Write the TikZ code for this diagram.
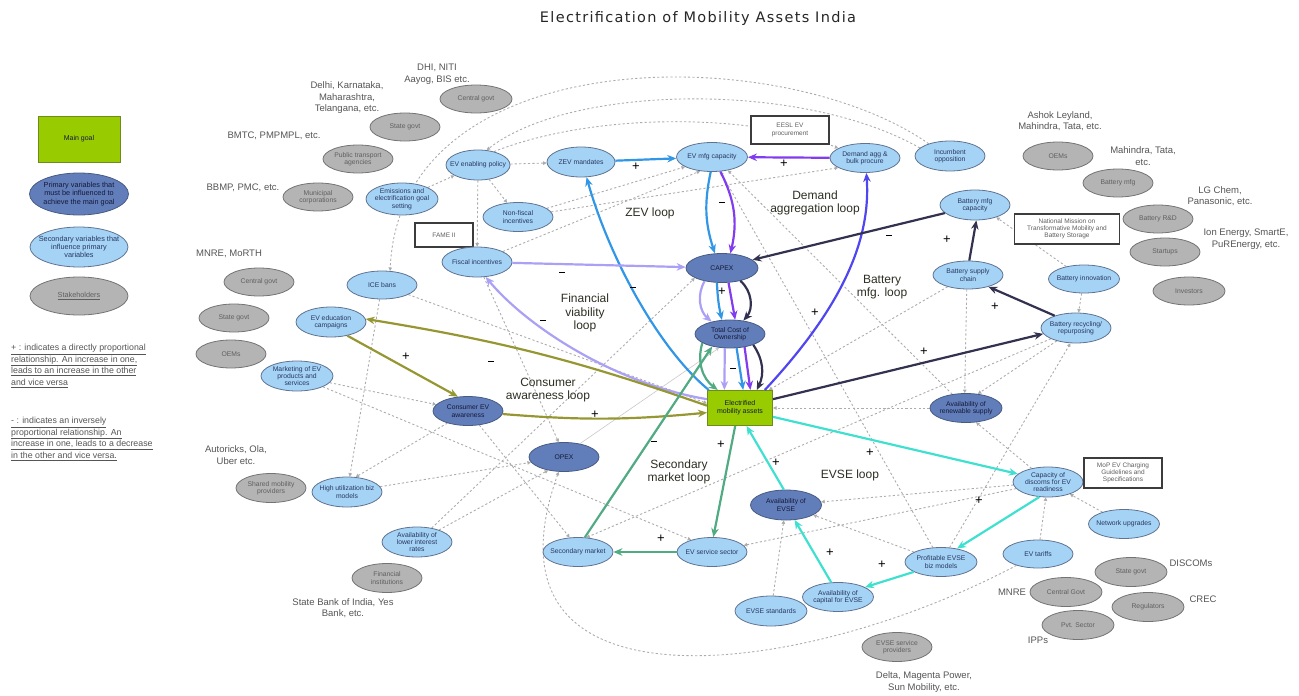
\documentclass[tikz,border=0pt]{standalone}
\usepackage{fontspec}
\setmainfont{Liberation Sans}
\newfontfamily\titlefont[LetterSpace=9]{DejaVu Sans}
\usetikzlibrary{shapes.geometric,arrows.meta,backgrounds}
\definecolor{goalc}{RGB}{153,204,0}
\definecolor{goalb}{RGB}{110,140,30}
\definecolor{primf}{RGB}{98,126,186}
\definecolor{primb}{RGB}{70,90,130}
\definecolor{secf}{RGB}{165,211,246}
\definecolor{secb}{RGB}{95,115,145}
\definecolor{stkf}{RGB}{180,180,180}
\definecolor{stkb}{RGB}{115,115,115}
\definecolor{secT}{RGB}{40,55,95}
\definecolor{primT}{RGB}{20,25,55}
\definecolor{stkT}{RGB}{95,95,95}
\definecolor{stkL}{RGB}{85,85,85}
\definecolor{annob}{RGB}{60,60,60}
\definecolor{loopT}{RGB}{45,45,35}
\definecolor{dashc}{RGB}{172,172,172}
\definecolor{zevc}{RGB}{50,150,230}
\definecolor{purc}{RGB}{130,60,240}
\definecolor{bvc}{RGB}{80,70,240}
\definecolor{navc}{RGB}{50,50,80}
\definecolor{lavc}{RGB}{170,160,245}
\definecolor{olvc}{RGB}{150,150,50}
\definecolor{grnc}{RGB}{80,170,130}
\definecolor{trqc}{RGB}{64,224,208}
\definecolor{thing}{RGB}{200,200,200}
\newcommand{\mns}{\rule[3.2pt]{5.5pt}{1.6pt}}
\tikzset{
 sec/.style={ellipse, draw=secb, fill=secf, line width=0.8pt, inner sep=-12pt,
   minimum width=70pt, minimum height=29pt, font=\fontsize{6.8}{7.4}\selectfont,
   text=secT, align=center},
 prim/.style={sec, fill=primf, draw=primb, text=primT},
 stk/.style={sec, fill=stkf, draw=stkb, text=stkT},
 goal/.style={rectangle, draw=goalb, fill=goalc, line width=1pt, minimum width=65pt,
   minimum height=35pt, inner sep=1pt, align=center, font=\fontsize{7}{8}\selectfont, text=primT},
 anno/.style={rectangle, draw=annob, line width=1.2pt, fill=white, inner sep=1pt,
   align=center, font=\fontsize{6.5}{7.3}\selectfont, text=stkT},
 slabel/.style={font=\fontsize{9.5}{11.5}\selectfont, text=stkL, align=center, inner sep=0pt},
 looplbl/.style={font=\fontsize{12}{13.5}\selectfont, text=loopT, align=center, inner sep=0pt},
 sgn/.style={font=\fontsize{13}{13}\selectfont, text=black, inner sep=0pt},
 dsh/.style={draw=dashc, line width=0.9pt, dash pattern=on 2.2pt off 2.2pt,
   -{Triangle[length=3.5pt,width=3.5pt]}},
 carr/.style={line width=2.2pt, -{Stealth[length=9pt,width=7.5pt]}},
}
\begin{document}
\begin{tikzpicture}[x=1pt,y=-1pt]
\useasboundingbox (0,0) rectangle (1299,696);
% title
\node[font=\titlefont\fontsize{14.5}{16}\selectfont, text=black!85] (title) at (698,18) {Electrification of Mobility Assets India};
% legend
\node[goal, minimum width=82pt, minimum height=46pt, font=\fontsize{7}{8}\selectfont] (lgoal) at (79,139) {Main goal};
\node[prim, minimum width=99pt, minimum height=42pt, font=\fontsize{7.3}{8.3}\selectfont] (lprim) at (79,194) {Primary variables that\\must be influenced to\\achieve the main goal};
\node[sec, minimum width=98pt, minimum height=40pt, font=\fontsize{7.3}{8.3}\selectfont] (lsec) at (79,247) {Secondary variables that\\influence primary\\variables};
\node[stk, minimum width=98pt, minimum height=38pt, font=\fontsize{7.3}{8.3}\selectfont] (lstk) at (79,296) {\underline{Stakeholders}};
\node[anchor=north west, align=left, font=\fontsize{8.8}{11.6}\selectfont, text=stkL, inner sep=0pt] (leg1) at (11,344)
 {\underline{+ : indicates a directly proportional}\\\underline{relationship. An increase in one,}\\\underline{leads to an increase in the other}\\\underline{and vice versa}};
\node[anchor=north west, align=left, font=\fontsize{8.8}{11.6}\selectfont, text=stkL, inner sep=0pt] (leg2) at (11,417)
 {\underline{- : indicates an inversely}\\\underline{proportional relationship. An}\\\underline{increase in one, leads to a decrease}\\\underline{in the other and vice versa.}};
% stakeholders
\node[stk, minimum width=72pt, minimum height=28pt] (sCG1) at (476,99) {Central govt};
\node[stk, minimum height=28pt] (sSG1) at (405,127) {State govt};
\node[stk, minimum height=28pt] (sPTA) at (358,159) {Public transport\\agencies};
\node[stk, minimum height=28pt] (sMC) at (318,197) {Municipal\\corporations};
\node[stk, minimum height=28pt] (sCG2) at (259,282) {Central govt};
\node[stk, minimum height=28pt] (sSG2) at (234,318) {State govt};
\node[stk, minimum height=28pt] (sOEM1) at (231,354) {OEMs};
\node[stk, minimum height=29pt] (sSMP) at (271,488) {Shared mobility\\providers};
\node[stk, minimum height=29pt] (sFI) at (387,578) {Financial\\institutions};
\node[stk, minimum height=29pt] (sEVSP) at (897,647) {EVSE service\\providers};
\node[stk, minimum height=28pt] (sOEM2) at (1058,156) {OEMs};
\node[stk, minimum height=28pt] (sBM) at (1118,183) {Battery mfg};
\node[stk, minimum height=28pt] (sBRD) at (1158,219) {Battery R\&D};
\node[stk, minimum height=28pt] (sST) at (1165,252) {Startups};
\node[stk, minimum width=72pt, minimum height=28pt] (sINV) at (1189,291) {Investors};
\node[stk, minimum width=72pt, minimum height=29pt] (sSG3) at (1131,572) {State govt};
\node[stk, minimum width=72pt, minimum height=29pt] (sCG3) at (1066,592) {Central Govt};
\node[stk, minimum width=72pt, minimum height=29pt] (sREG) at (1148,607) {Regulators};
\node[stk, minimum width=72pt, minimum height=29pt] (sPVT) at (1078,625) {Pvt. Sector};
% stakeholder labels
\node[slabel] (tCG1) at (437,74) {DHI, NITI\\Aayog, BIS etc.};
\node[slabel] (tSG1) at (347,98) {Delhi, Karnataka,\\Maharashtra,\\Telangana, etc.};
\node[slabel] (tPTA) at (274,136) {BMTC, PMPMPL, etc.};
\node[slabel] (tMC) at (243,188) {BBMP, PMC, etc.};
\node[slabel] (tCG2) at (229,254) {MNRE, MoRTH};
\node[slabel] (tSMP) at (236,455) {Autoricks, Ola,\\Uber etc.};
\node[slabel] (tFI) at (343,608) {State Bank of India, Yes\\Bank, etc.};
\node[slabel] (tEVSP) at (924,682) {Delta, Magenta Power,\\Sun Mobility, etc.};
\node[slabel] (tOEM2) at (1060,121) {Ashok Leyland,\\Mahindra, Tata, etc.};
\node[slabel] (tBM) at (1143,156) {Mahindra, Tata,\\etc.};
\node[slabel] (tBRD) at (1220,196) {LG Chem,\\Panasonic, etc.};
\node[slabel] (tST) at (1246,239) {Ion Energy, SmartE,\\PuREnergy, etc.};
\node[slabel] (tSG3) at (1191,563) {DISCOMs};
\node[slabel] (tCG3) at (1012,592) {MNRE};
\node[slabel] (tREG) at (1203,599) {CREC};
\node[slabel] (tPVT) at (1038,640) {IPPs};
% secondary variables
\node[sec, minimum width=64pt, minimum height=30pt] (pol) at (478,165) {EV enabling policy};
\node[sec, minimum width=68pt, minimum height=30pt] (zev) at (581,162) {ZEV mandates};
\node[sec, minimum width=72pt, minimum height=32pt] (emi) at (402,199) {Emissions and\\electrification goal\\setting};
\node[sec] (nfi) at (518,217) {Non-fiscal\\incentives};
\node[anno, minimum width=58pt, minimum height=24pt] (fame) at (444,235) {FAME II};
\node[sec, minimum height=30pt] (fisc) at (477,262) {Fiscal incentives};
\node[sec, minimum height=28pt] (ice) at (382,285) {ICE bans};
\node[sec, minimum height=30pt] (edu) at (331,322) {EV education\\campaigns};
\node[sec, minimum width=72pt, minimum height=30pt] (mkt) at (297,376) {Marketing of EV\\products and\\services};
\node[sec, minimum height=30pt] (hub) at (347,492) {High utilization biz\\models};
\node[sec, minimum height=30pt] (lir) at (417,542) {Availability of\\lower interest\\rates};
\node[sec] (secm) at (578,552) {Secondary market};
\node[sec] (evss) at (712,552) {EV service sector};
\node[sec, minimum width=72pt, minimum height=30pt] (evses) at (771,611) {EVSE standards};
\node[sec, minimum width=71pt] (acap) at (838,597) {Availability of\\capital for EVSE};
\node[sec, minimum width=72pt] (pevse) at (941,562) {Profitable EVSE\\biz models};
\node[sec, minimum height=28pt] (tar) at (1038,554) {EV tariffs};
\node[sec, minimum width=71pt] (net) at (1124,524) {Network upgrades};
\node[sec, minimum height=30pt] (disc) at (1048,482) {Capacity of\\discoms for EV\\readiness};
\node[anno, minimum width=78pt, minimum height=30pt] (mop) at (1123,473) {MoP EV Charging\\Guidelines and\\Specifications};
\node[sec, minimum height=30pt] (brec) at (1076,328) {Battery recycling/\\repurposing};
\node[sec, minimum width=71pt, minimum height=28pt] (binn) at (1084,279) {Battery innovation};
\node[anno, minimum width=105pt, minimum height=30pt] (nmm) at (1067,229) {National Mission on\\Transformative Mobility and\\Battery Storage};
\node[sec, minimum height=30pt] (bmc) at (975,205) {Battery mfg\\capacity};
\node[sec, minimum height=28pt] (bsc) at (968,275) {Battery supply\\chain};
\node[sec, minimum height=30pt] (inc) at (950,156) {Incumbent\\opposition};
\node[sec] (dagg) at (865,158) {Demand agg \&\\bulk procure};
\node[anno, minimum width=78pt, minimum height=28pt] (eesl) at (790,130) {EESL EV\\procurement};
\node[sec, minimum width=71pt] (evmfg) at (712,157) {EV mfg capacity};
% primary variables
\node[prim, minimum width=72pt] (capex) at (722,268) {CAPEX};
\node[prim, minimum height=28pt] (tco) at (730,334) {Total Cost of\\Ownership};
\node[prim] (cea) at (468,411) {Consumer EV\\awareness};
\node[prim] (opex) at (564,457) {OPEX};
\node[prim, minimum width=72pt] (ren) at (966,408) {Availability of\\renewable supply};
\node[prim, minimum width=71pt, minimum height=30pt] (aevse) at (786,505) {Availability of\\EVSE};
% main goal
\node[goal] (ema) at (740,408) {Electrified\\mobility assets};
% dashed influences
\begin{pgfonlayer}{background}
\draw[dsh] (inc.150) .. controls (780,40) and (400,40) .. (ice.60);
\draw[dsh] (inc.165) .. controls (800,80) and (570,85) .. (pol.60);
\draw[dsh] (pol.40) .. controls (600,110) and (760,115) .. (dagg.160);
\draw[dsh] (pol) -- (zev);
\draw[dsh] (emi) -- (pol);
\draw[dsh] (pol) -- (nfi);
\draw[dsh] (pol) -- (fisc);
\draw[dsh] (nfi) -- (evmfg.200);
\draw[dsh] (fisc) -- (evmfg.230);
\draw[dsh] (nfi) -- (dagg.200);
\draw[dsh] (ice) -- (ema.172);
\draw[dsh] (fisc) -- (opex.110);
\draw[dsh] (mkt) -- (cea);
\draw[dsh] (hub) -- (opex);
\draw[dsh] (lir) -- (opex.220);
\draw[dsh] (lir) -- (capex.200);
\draw[dsh] (ice) -- (hub.80);
\draw[dsh] (cea) -- (hub.60);
\draw[dsh] (mkt) -- (evss.150);
\draw[dsh] (cea) -- (secm.120);
\draw[dsh] (tar) .. controls (800,680) and (470,720) .. (opex.250);
\draw[dsh] (brec) -- (secm.60);
\draw[dsh] (disc) -- (evss);
\draw[dsh] (evses) -- (aevse);
\draw[dsh] (disc) -- (aevse);
\draw[dsh] (pevse) -- (aevse);
\draw[dsh] (bsc.265) -- (ren.95);
\draw[dsh] (brec) -- (ren.50);
\draw[dsh] (ren) -- (ema);
\draw[dsh] (disc) -- (ren.305);
\draw[dsh] (pevse) -- (brec.250);
\draw[dsh] (tar) -- (disc);
\draw[dsh] (net) -- (disc);
\draw[dsh] (binn) -- (brec);
\draw[dsh] (binn) -- (bmc.330);
\draw[dsh] (bsc) -- (ema.32);
\draw[dsh] (pevse) -- (evmfg.300);
\draw[dsh] (ren) -- (evmfg.320);
\draw[line width=0.6pt, draw=thing, -{Stealth[length=4pt,width=3.5pt]}] (opex.40) -- (tco.232);
\end{pgfonlayer}
% ZEV loop
\draw[carr, zevc] (zev) -- (evmfg);
\draw[carr, zevc] (evmfg.265) to[bend right=15] (capex.116);
\draw[carr, zevc] (capex.251) to[bend right=5] (tco.120);
\draw[carr, zevc] (tco.295) -- (ema.80);
\draw[carr, zevc] (ema.150) .. controls (660,350) and (610,260) .. (zev.290);
% demand aggregation loop
\draw[carr, purc] (dagg) -- (evmfg);
\draw[carr, purc] (evmfg.300) to[bend left=20] (capex.60);
\draw[carr, purc] (capex.294) -- (tco.70);
\draw[carr, purc] (tco.318) -- (ema.60);
\draw[carr, bvc] (ema.36) .. controls (830,320) and (872,250) .. (dagg.275);
% battery mfg loop
\draw[carr, navc] (bmc.195) -- (capex.15);
\draw[carr, navc] (capex.325) to[bend left=45] (tco.45);
\draw[carr, navc] (tco.335) to[bend left=30] (ema.47);
\draw[carr, navc] (ema.15) -- (brec.190);
\draw[carr, navc] (brec.150) -- (bsc.330);
\draw[carr, navc] (bsc.85) -- (bmc.275);
% financial viability loop
\draw[carr, lavc] (fisc) -- (capex);
\draw[carr, lavc] (capex.217) to[bend right=40] (tco.146);
\draw[carr, lavc] (tco.250) -- (ema.131);
\draw[carr, lavc] (ema.165) .. controls (620,385) and (530,330) .. (fisc.300);
% consumer awareness loop
\draw[carr, olvc] (ema.176) to[bend right=5] (edu.5);
\draw[carr, olvc] (edu.320) -- (cea.125);
\draw[carr, olvc] (cea.355) to[bend right=5] (ema.188);
% secondary market loop
\draw[carr, grnc] (ema.255) -- (evss.85);
\draw[carr, grnc] (evss) -- (secm);
\draw[carr, grnc] (secm.65) -- (tco.215);
\draw[carr, grnc] (tco.198) to[bend right=35] (ema.141);
% EVSE loop
\draw[carr, trqc] (ema.345) -- (disc.165);
\draw[carr, trqc] (disc.240) -- (pevse.40);
\draw[carr, trqc] (pevse.200) -- (acap.20);
\draw[carr, trqc] (acap.115) -- (aevse.300);
\draw[carr, trqc] (aevse.98) -- (ema.290);
% loop labels
\node[looplbl] (lzev) at (650,213) {ZEV loop};
\node[looplbl] (ldem) at (815,203) {Demand\\aggregation loop};
\node[looplbl] (lbat) at (882,287) {Battery\\mfg. loop};
\node[looplbl] (lfin) at (585,313) {Financial\\viability\\loop};
\node[looplbl] (lcon) at (548,390) {Consumer\\awareness loop};
\node[looplbl] (lsm) at (679,472) {Secondary\\market loop};
\node[looplbl] (levse) at (850,475) {EVSE loop};
% signs
\node[sgn] (g1) at (636,167) {+};
\node[sgn] (g2) at (784,164) {+};
\node[sgn] (g3) at (722,204) {\mns};
\node[sgn] (g4) at (889,237) {\mns};
\node[sgn] (g5) at (947,240) {+};
\node[sgn] (g6) at (722,292) {+};
\node[sgn] (g7) at (633,289) {\mns};
\node[sgn] (g8) at (815,313) {+};
\node[sgn] (g9) at (562,274) {\mns};
\node[sgn] (g10) at (543,322) {\mns};
\node[sgn] (g11) at (406,357) {+};
\node[sgn] (g12) at (491,363) {\mns};
\node[sgn] (g13) at (595,415) {+};
\node[sgn] (g14) at (654,443) {\mns};
\node[sgn] (g15) at (721,445) {+};
\node[sgn] (g16) at (733,370) {\mns};
\node[sgn] (g17) at (924,352) {+};
\node[sgn] (g18) at (995,307) {+};
\node[sgn] (g19) at (776,463) {+};
\node[sgn] (g20) at (870,453) {+};
\node[sgn] (g21) at (979,501) {+};
\node[sgn] (g22) at (830,553) {+};
\node[sgn] (g23) at (882,565) {+};
\node[sgn] (g24) at (661,539) {+};
\end{tikzpicture}
\end{document}
